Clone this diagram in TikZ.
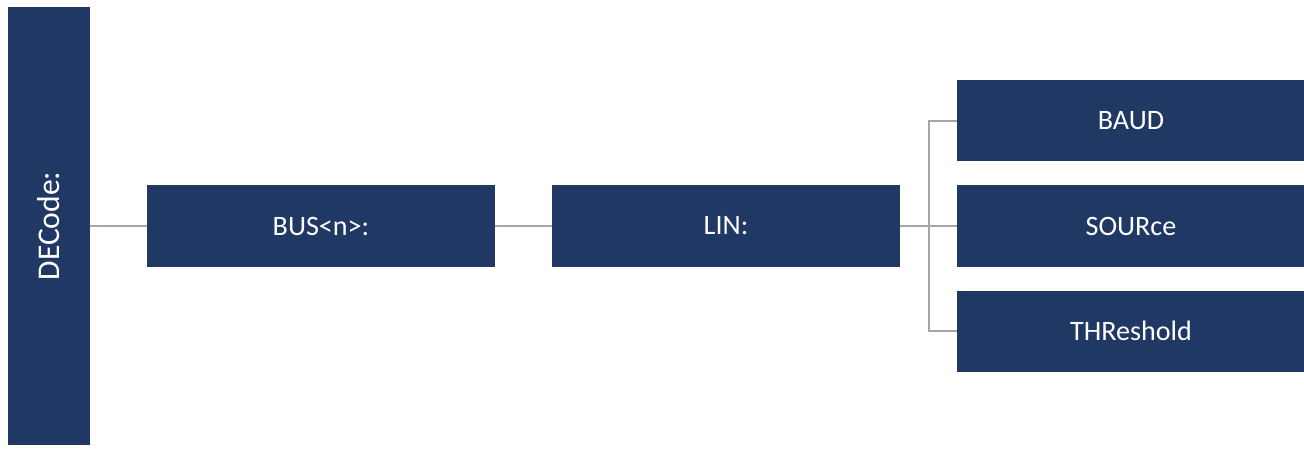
\documentclass[tikz,border=0pt]{standalone}
\usepackage{fontspec}
\setmainfont{Carlito}
\definecolor{navy}{HTML}{1F3864}
\definecolor{linegray}{HTML}{A6A6A6}

\tikzstyle{block} = [rectangle, fill=navy, text=white, inner sep=0pt,
    minimum width=6.96cm, minimum height=1.62cm, font=\fontsize{16}{19}\selectfont]
\tikzstyle{root} = [block, rotate=90, minimum width=8.76cm, minimum height=1.64cm,
    font=\fontsize{18}{21}\selectfont]
\tikzstyle{line} = [draw, line width=0.8pt, color=linegray]

\begin{document}
\begin{tikzpicture}[node distance = 8.1cm]
	\useasboundingbox (0,0) rectangle (26.08,-8.98);
	% Nodes
	\node [root] (DECode) at (0.98,-4.52) {DECode:};
	\node [block, right of=DECode, node distance=5.44cm] (BUS) {BUS<n>:};
	\node [block, right of=BUS] (LIN) {LIN:};
	\node [block, right of=LIN] (SOURce) {SOURce};
	\node [block, above of=SOURce, node distance=2.1cm] (BAUD) {BAUD};
	\node [block, below of=SOURce, node distance=2.1cm] (THReshold) {THReshold};
	\coordinate [right of=LIN, node distance=4.06cm] (branch);

	% Lines
	\path [line] (DECode) -- (BUS);
	\path [line] (BUS) -- (LIN);
	\path [line] (LIN) -- (branch);
	\path [line] (branch) |- (BAUD);
	\path [line] (branch) -- (SOURce);
	\path [line] (branch) |- (THReshold);

\end{tikzpicture}
\end{document}
